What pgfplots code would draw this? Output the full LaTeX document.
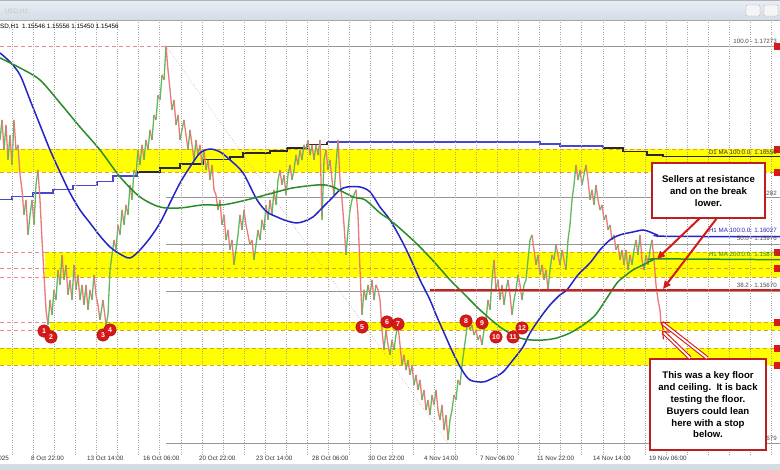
\documentclass[border=0pt]{standalone}
\usepackage{fontspec}
\setmainfont{Liberation Sans}
\usepackage{pgfplots}
\usepackage{pgfplotstable}
\pgfplotsset{compat=1.18}
\usetikzlibrary{arrows.meta}
\definecolor{zoneY}{RGB}{255,255,0}
\definecolor{zoneDash}{RGB}{226,160,30}
\definecolor{pinkDash}{RGB}{230,140,140}
\definecolor{maBlue}{RGB}{35,35,200}
\definecolor{maGreen}{RGB}{40,140,40}
\definecolor{stepBlue}{RGB}{70,70,210}
\definecolor{stepBlack}{RGB}{40,40,40}
\definecolor{fibGrey}{RGB}{150,150,150}
\definecolor{fibDiag}{RGB}{215,150,150}
\definecolor{candRed}{RGB}{236,120,120}
\definecolor{candGreen}{RGB}{95,185,95}
\definecolor{annRed}{RGB}{215,25,25}
\definecolor{boxRed}{RGB}{190,30,30}
\definecolor{gridGrey}{RGB}{165,165,165}
\definecolor{barTop}{RGB}{232,238,245}
\definecolor{barBot}{RGB}{212,220,230}
\definecolor{stripGrey}{RGB}{214,220,228}

\pgfplotstableread{
x p m
0 1.16659 1
2 1.16790 0
4 1.16594 1
6 1.16757 0
8 1.16529 1
10 1.16692 0
12 1.16496 1
14 1.16790 0
16 1.16594 1
18 1.16627 0
20 1.16431 0
22 1.16333 0
24 1.16170 1
26 1.16268 0
28 1.16039 1
30 1.16170 1
32 1.16268 0
34 1.16104 1
36 1.16366 1
38 1.16463 0
40 1.16268 0
42 1.16006 0
44 1.15778 0
46 1.15549 0
48 1.15451 1
50 1.15614 0
52 1.15516 1
54 1.15680 0
56 1.15614 1
58 1.15810 0
60 1.15712 1
62 1.15908 0
64 1.15745 1
66 1.15843 0
68 1.15647 1
70 1.15745 0
72 1.15614 1
74 1.15843 0
76 1.15680 1
78 1.15778 0
80 1.15614 1
82 1.15712 0
84 1.15581 1
86 1.15712 0
88 1.15549 1
90 1.15680 0
92 1.15614 1
94 1.15778 0
96 1.15647 0
98 1.15581 0
100 1.15483 1
103 1.15614 0
106 1.15451 1
108 1.15516 1
110 1.15810 1
112 1.15908 1
114 1.16006 0
116 1.15941 1
118 1.16104 0
120 1.16039 1
122 1.16202 0
124 1.16104 1
126 1.16235 0
128 1.16170 1
130 1.16366 0
132 1.16268 1
134 1.16463 0
136 1.16431 1
138 1.16594 0
140 1.16496 1
142 1.16627 0
144 1.16529 1
146 1.16659 0
148 1.16594 1
150 1.16725 0
152 1.16659 1
154 1.16823 0
156 1.16790 1
158 1.16953 0
160 1.16921 1
162 1.17084 0
164 1.17051 1
166 1.17273 0
168 1.17117 0
170 1.16986 0
172 1.16855 1
174 1.16921 0
176 1.16757 1
178 1.16823 0
180 1.16659 1
182 1.16725 1
184 1.16790 0
186 1.16692 0
188 1.16594 1
190 1.16725 0
192 1.16627 0
194 1.16529 1
196 1.16659 0
198 1.16561 1
200 1.16627 0
202 1.16496 1
204 1.16594 0
206 1.16463 1
208 1.16529 0
210 1.16398 1
212 1.16496 0
214 1.16333 0
216 1.16300 0
218 1.16202 1
220 1.16268 0
222 1.16104 1
224 1.16170 0
226 1.16006 1
228 1.16071 0
230 1.15941 1
232 1.16006 0
234 1.15843 1
236 1.15941 1
238 1.16039 1
240 1.16170 0
242 1.16071 1
244 1.16202 0
246 1.16104 0
248 1.16039 0
250 1.15974 1
252 1.16006 0
254 1.15876 1
256 1.15974 1
258 1.16071 0
260 1.16006 1
262 1.16137 0
264 1.16071 1
266 1.16235 0
268 1.16137 1
270 1.16268 0
272 1.16170 1
274 1.16333 0
276 1.16235 1
278 1.16398 1
280 1.16463 0
282 1.16366 1
284 1.16431 0
286 1.16300 1
288 1.16431 1
290 1.16496 0
292 1.16398 1
294 1.16463 1
296 1.16561 0
298 1.16496 1
300 1.16594 0
302 1.16529 1
304 1.16627 0
306 1.16594 1
308 1.16659 0
310 1.16561 1
312 1.16627 0
314 1.16529 1
316 1.16627 0
318 1.16561 1
320 1.16659 0
322 1.16137 1
324 1.16529 1
326 1.16594 0
328 1.16463 1
330 1.16529 0
332 1.16398 0
334 1.16300 1
336 1.16496 1
338 1.16659 0
340 1.16398 0
342 1.16268 0
344 1.16104 0
346 1.15908 1
348 1.16071 1
350 1.16202 1
352 1.16268 1
354 1.16300 1
356 1.16333 0
358 1.16170 0
360 1.15810 0
362 1.15516 1
364 1.15680 0
366 1.15614 1
368 1.15712 0
370 1.15647 1
372 1.15745 0
374 1.15614 1
376 1.15712 0
378 1.15680 0
380 1.15614 0
382 1.15418 0
384 1.15287 1
386 1.15418 0
388 1.15320 0
390 1.15255 1
392 1.15353 0
394 1.15287 1
396 1.15385 1
398 1.15451 0
400 1.15320 0
402 1.15189 1
404 1.15255 0
406 1.15156 1
408 1.15222 0
410 1.15124 1
412 1.15189 0
414 1.15058 1
416 1.15124 0
418 1.15026 1
420 1.15091 0
422 1.14960 1
424 1.15026 0
426 1.14895 1
428 1.14960 0
430 1.14862 1
432 1.14993 0
434 1.14928 1
436 1.15026 0
438 1.14895 0
440 1.14830 1
442 1.14928 0
444 1.14764 1
446 1.14862 0
448 1.14699 1
450 1.14830 1
452 1.14895 1
454 1.14993 0
456 1.14960 1
458 1.15091 0
460 1.15058 1
462 1.15189 1
464 1.15287 1
466 1.15385 1
468 1.15483 0
470 1.15418 1
472 1.15451 0
474 1.15385 1
476 1.15418 0
478 1.15353 1
480 1.15385 0
482 1.15320 1
484 1.15418 1
486 1.15483 1
488 1.15614 0
490 1.15549 1
492 1.15745 1
494 1.15876 0
496 1.15680 1
498 1.15745 0
500 1.15614 1
502 1.15712 0
504 1.15581 1
506 1.15680 1
508 1.15745 0
510 1.15647 0
512 1.15516 1
514 1.15614 1
516 1.15680 1
518 1.15778 0
520 1.15712 0
522 1.15614 1
524 1.15712 1
526 1.15745 1
528 1.15876 1
530 1.16006 1
532 1.16039 0
534 1.15941 0
536 1.15843 1
538 1.15908 0
540 1.15778 1
542 1.15843 0
544 1.15745 1
546 1.15810 0
548 1.15680 1
550 1.15810 1
552 1.15908 0
554 1.15876 1
556 1.15974 0
558 1.15908 0
560 1.15843 1
562 1.15941 0
564 1.15876 0
566 1.15810 1
568 1.16006 1
570 1.16104 1
572 1.16268 1
574 1.16366 1
576 1.16496 0
578 1.16398 1
580 1.16463 0
582 1.16366 1
584 1.16431 1
586 1.16496 0
588 1.16398 0
590 1.16268 1
592 1.16333 0
594 1.16235 1
596 1.16366 0
598 1.16268 0
600 1.16202 1
602 1.16235 0
604 1.16137 1
606 1.16170 0
608 1.16071 1
610 1.16104 0
612 1.16006 1
614 1.16039 0
616 1.15941 1
618 1.15974 0
620 1.15876 1
622 1.15941 0
624 1.15843 1
626 1.15941 0
628 1.15810 1
630 1.15908 0
632 1.15843 1
634 1.15941 1
636 1.16006 0
638 1.15908 1
640 1.16039 0
642 1.15876 0
644 1.15810 1
646 1.15908 0
648 1.15843 1
650 1.15941 1
652 1.16006 0
654 1.15876 0
656 1.15712 0
658 1.15614 0
660 1.15549 0
661 1.15456 0
}\pricetable

\begin{document}
\begin{tikzpicture}[x=1pt,y=1pt]
\useasboundingbox (0,-15) rectangle (780,455);
\clip (0,-15) rectangle (780,455);
\fill[white] (0,-15) rectangle (780,455);
% title bar
\shade[top color=barTop, bottom color=barBot] (0,435) rectangle (780,455);
\draw[gray!60, line width=1.5pt] (0,454.5) -- (780,454.5);
\draw[gray!70] (0,435) -- (780,435);
\node[anchor=west, text=gray!45, font=\fontsize{6.5}{7}\selectfont] at (1,443) {USD,H1};
\draw[gray!60, fill=white!92!gray, rounded corners=1pt] (746,439) rectangle (760,450);
\draw[gray!60, fill=white!92!gray, rounded corners=1pt] (764,439) rectangle (778,450);
% bottom strip
\fill[stripGrey] (0,-15) rectangle (780,-9);

\begin{axis}[
  at={(0,0)}, anchor=south west, scale only axis,
  width=780pt, height=435pt,
  xmin=0, xmax=780, ymin=1.14601, ymax=1.17443,
  axis line style={draw=none},
  ytick=\empty,
  xtick={31,87,143,199,256,312,368,424,480,537,593,649},
  xticklabels={8 Oct 22:00,13 Oct 14:00,16 Oct 06:00,20 Oct 22:00,23 Oct 14:00,28 Oct 06:00,30 Oct 22:00,4 Nov 14:00,7 Nov 06:00,11 Nov 22:00,14 Nov 14:00,19 Nov 06:00},
  xticklabel style={anchor=north west, inner sep=0pt, yshift=-0.5pt, font=\fontsize{6.3}{7}\selectfont, text=black!80},
  major tick length=0pt, minor tick length=0pt,
  minor xtick={12,33.1,...,776},
  xminorgrids=true,
  minor grid style={gridGrey, dash pattern=on 0.8pt off 1.6pt, line width=0.5pt},
  axis on top,
  clip=true,
]
% yellow zones
\addplot[draw=none, fill=zoneY, forget plot] coordinates {(0,1.16600) (780,1.16600) (780,1.16450) (0,1.16450)} -- cycle;
\addplot[draw=none, fill=zoneY, forget plot] coordinates {(45,1.15927) (780,1.15927) (780,1.15764) (45,1.15764)} -- cycle;
\addplot[draw=none, fill=zoneY, forget plot] coordinates {(50,1.15470) (780,1.15470) (780,1.15418) (50,1.15418)} -- cycle;
\addplot[draw=none, fill=zoneY, forget plot] coordinates {(0,1.15300) (780,1.15300) (780,1.15189) (0,1.15189)} -- cycle;
% zone dashed borders
\pgfplotsset{zd/.style={zoneDash, line width=0.8pt, dash pattern=on 4pt off 3pt, forget plot}}
\addplot[zd] coordinates {(0,1.16600) (780,1.16600)};
\addplot[zd] coordinates {(0,1.16450) (780,1.16450)};
\addplot[zd] coordinates {(45,1.15927) (780,1.15927)};
\addplot[zd] coordinates {(45,1.15823) (780,1.15823)};
\addplot[zd] coordinates {(45,1.15764) (780,1.15764)};
\addplot[zd] coordinates {(50,1.15470) (780,1.15470)};
\addplot[zd] coordinates {(50,1.15418) (780,1.15418)};
\addplot[zd] coordinates {(0,1.15300) (780,1.15300)};
\addplot[zd] coordinates {(0,1.15189) (780,1.15189)};
\pgfplotsset{pd/.style={pinkDash, line width=0.7pt, dash pattern=on 4pt off 3pt, forget plot}}
\addplot[pd] coordinates {(0,1.15927) (45,1.15927)};
\addplot[pd] coordinates {(0,1.15823) (45,1.15823)};
\addplot[pd] coordinates {(0,1.15764) (45,1.15764)};
\addplot[pd] coordinates {(0,1.15470) (50,1.15470)};
\addplot[pd] coordinates {(0,1.15418) (50,1.15418)};
\addplot[pd] coordinates {(0,1.17273) (166,1.17273)};
% fibonacci levels
\pgfplotsset{fb/.style={fibGrey, line width=0.8pt, forget plot}}
\addplot[fb] coordinates {(166,1.17273) (780,1.17273)};
\addplot[fb] coordinates {(166,1.16282) (780,1.16282)};
\addplot[fb] coordinates {(166,1.15976) (780,1.15976)};
\addplot[fb] coordinates {(166,1.15670) (780,1.15670)};
\addplot[fb] coordinates {(166,1.14679) (780,1.14679)};
\addplot[fibDiag, dotted, line width=0.6pt, forget plot] coordinates {(166,1.17273) (448,1.14679)};
% daily MA step lines
\addplot[stepBlue, line width=1.1pt, forget plot] coordinates {(0,1.16268)(12,1.16268)(12,1.16287)(33,1.16287)(33,1.16313)(53,1.16313)(53,1.16333)(73,1.16333)(73,1.16359)(97,1.16359)(97,1.16385)(113,1.16385)(113,1.16424)(137,1.16424)(137,1.16450)};
\addplot[stepBlack, line width=1.1pt, forget plot] coordinates {(137,1.16450)(160,1.16450)(160,1.16476)(180,1.16476)(180,1.16502)(203,1.16502)(203,1.16529)(230,1.16529)(230,1.16548)(243,1.16548)(243,1.16574)(270,1.16574)(270,1.16587)(287,1.16587)(287,1.16607)(307,1.16607)(307,1.16627)(327,1.16627)(327,1.16646)};
\addplot[stepBlue, line width=1.1pt, forget plot] coordinates {(327,1.16646)(540,1.16646)(540,1.16633)(560,1.16633)(560,1.16620)(603,1.16620)(603,1.16607)};
\addplot[stepBlack, line width=1.1pt, forget plot] coordinates {(603,1.16607)(623,1.16607)(623,1.16581)(647,1.16581)(647,1.16561)(663,1.16561)(663,1.16550)(780,1.16550)};
% price (H1 candles)
\addplot[mesh, shader=flat corner, point meta=\thisrow{m}, point meta min=0, point meta max=1,
  colormap={cand}{color=(candRed) color=(candGreen)}, line width=1.3pt, forget plot] table[x=x, y=p] {\pricetable};
% H1 MA 100
\addplot[maBlue, line width=1.5pt, smooth, forget plot] coordinates {(0,1.17228)(10,1.17169)(20,1.17084)(30,1.16921)(40,1.16757)(50,1.16594)(60,1.16450)(70,1.16313)(80,1.16202)(90,1.16117)(100,1.16032)(110,1.15960)(120,1.15914)(130,1.15888)(140,1.15941)(150,1.16019)(160,1.16117)(170,1.16248)(180,1.16378)(190,1.16483)(200,1.16574)(210,1.16600)(220,1.16581)(230,1.16529)(243,1.16444)(257,1.16268)(267,1.16189)(277,1.16156)(287,1.16130)(297,1.16117)(305,1.16130)(313,1.16156)(323,1.16221)(333,1.16287)(340,1.16333)(347,1.16352)(360,1.16352)(370,1.16320)(380,1.16221)(390,1.16137)(403,1.15986)(412,1.15862)(420,1.15745)(430,1.15614)(437,1.15503)(445,1.15385)(453,1.15268)(462,1.15156)(470,1.15091)(483,1.15078)(493,1.15104)(503,1.15143)(513,1.15222)(523,1.15307)(530,1.15398)(540,1.15496)(550,1.15581)(560,1.15647)(567,1.15680)(578,1.15778)(590,1.15856)(600,1.15941)(610,1.16006)(620,1.16039)(633,1.16058)(643,1.16071)(650,1.16058)(657,1.16039)(665,1.16030)(780,1.16027)};
% H1 MA 200
\addplot[maGreen, line width=1.5pt, smooth, forget plot] coordinates {(0,1.17195)(20,1.17130)(40,1.17051)(60,1.16901)(80,1.16744)(100,1.16594)(120,1.16418)(140,1.16287)(160,1.16221)(180,1.16215)(203,1.16235)(223,1.16235)(247,1.16268)(273,1.16313)(293,1.16346)(320,1.16366)(333,1.16352)(353,1.16287)(365,1.16268)(380,1.16182)(390,1.16137)(405,1.16052)(420,1.15960)(435,1.15856)(450,1.15745)(465,1.15647)(480,1.15549)(500,1.15437)(517,1.15372)(530,1.15353)(545,1.15353)(557,1.15366)(570,1.15398)(580,1.15437)(590,1.15483)(597,1.15529)(607,1.15627)(617,1.15725)(625,1.15771)(633,1.15810)(645,1.15849)(653,1.15876)(660,1.15882)(780,1.15877)};
% 38.2 red line
\addplot[annRed, line width=2pt, forget plot] coordinates {(430,1.15680) (780,1.15680)};
% right-edge price flags
\addplot[only marks, mark=square*, mark size=3pt, annRed, forget plot] coordinates {(777,1.17273)(777,1.16600)(777,1.16450)(777,1.15927)(777,1.15823)(777,1.15470)(777,1.15300)(777,1.15189)};
% numbered touch points
\addplot[only marks, mark=*, mark size=6.2pt, mark options={fill=annRed, draw=annRed!75!black, line width=0.4pt},
  point meta=explicit symbolic, nodes near coords,
  every node near coord/.style={anchor=center, inner sep=0pt, text=white, font=\bfseries\fontsize{7}{7}\selectfont}, forget plot]
 coordinates {(44,1.15411)[1] (51,1.15372)[2] (103,1.15385)[3] (110,1.15418)[4] (362,1.15437)[5] (387,1.15470)[6] (398,1.15457)[7] (466,1.15477)[8] (482,1.15464)[9] (496,1.15372)[10] (513,1.15372)[11] (522,1.15431)[12]};
\end{axis}

% header line
\node[anchor=west, inner sep=0pt, font=\fontsize{6.3}{7}\selectfont] at (0,428) {SD,H1\ \ 1.15546 1.15556 1.15450 1.15456};
\node[anchor=north east, inner sep=0pt, font=\fontsize{6.3}{7}\selectfont, text=black!80] at (9,-0.5) {6 Oct 2025};
% level labels
\begin{scope}[font=\fontsize{6.2}{7}\selectfont, inner sep=0pt]
\node[anchor=base east, text=black!70] at (777,411) {100.0 - 1.17273};
\node[anchor=base east, text=black!80] at (777,300) {D1 MA 100:0.0: 1.16550};
\node[anchor=base east, text=black!70] at (777,259) {282};
\node[anchor=base east, text=maBlue] at (777,222) {H1 MA 100:0.0: 1.16027};
\node[anchor=base east, text=black!70] at (777,214) {50.0 - 1.15976};
\node[anchor=base east, text=maGreen] at (777,198) {H1 MA 200:0.0: 1.15877};
\node[anchor=base east, text=black!70] at (777,167) {38.2 - 1.15670};
\node[anchor=base east, text=black!70] at (777,14) {0.0 - 1.14679};
\end{scope}
% callout boxes
\draw[boxRed, line width=1.5pt, fill=white] (652,292) rectangle (765,237);
\node[align=center, font=\bfseries\fontsize{9.6}{12}\selectfont] at (708.5,264) {Sellers at resistance\\and on the break\\lower.};
\draw[boxRed, line width=1.5pt, fill=white] (650,96) rectangle (766,5);
\node[align=center, font=\bfseries\fontsize{9.6}{11.8}\selectfont] at (708,50) {This was a key floor\\and ceiling.\ \ It is back\\testing the floor.\\Buyers could lean\\here with a stop\\below.};
% arrows
\draw[annRed, line width=2pt, -{Triangle[length=8pt,width=7pt]}] (700,237) -- (657,196);
\draw[annRed, line width=2pt, -{Triangle[length=8pt,width=7pt]}] (717,237) -- (663,166);
\draw[annRed, line width=1.1pt, double=white, double distance=1.8pt, -{Straight Barb[length=6pt,width=10pt]}] (707,97) -- (661,133);
\draw[annRed, line width=1.1pt, double=white, double distance=1.8pt, -{Straight Barb[length=6pt,width=10pt]}] (690,97) -- (662,124);
\end{tikzpicture}
\end{document}
